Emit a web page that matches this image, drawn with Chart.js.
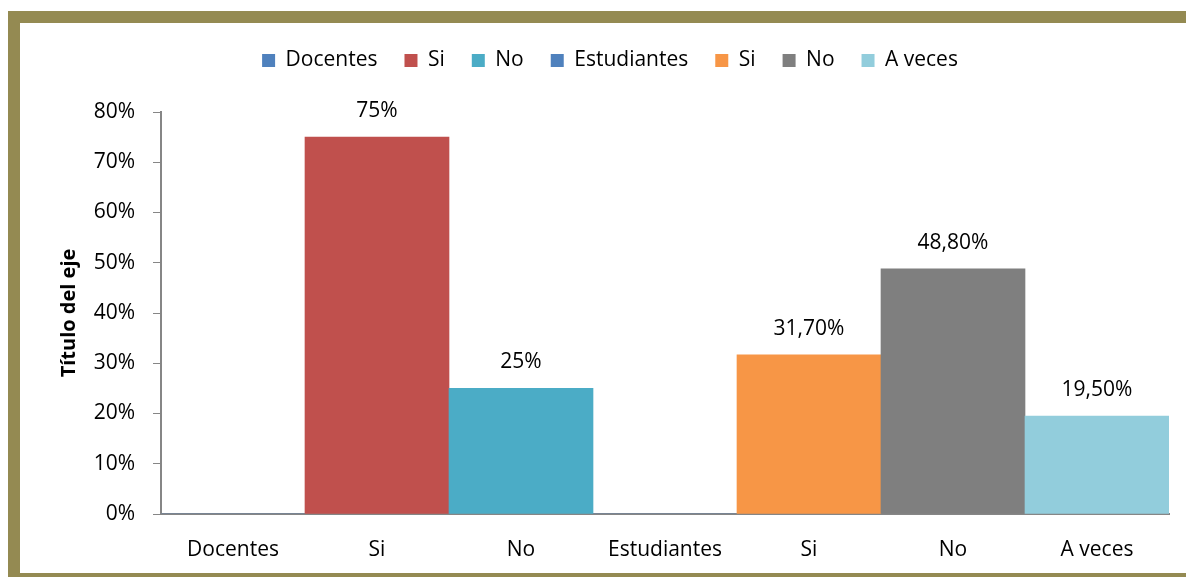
<!DOCTYPE html>
<html>
<head>
<meta charset="utf-8">
<script src="https://cdn.jsdelivr.net/npm/chart.js@4"></script>
<style>
  body { margin: 0; background: #fff; overflow: hidden; }
  #frame {
    position: absolute; left: 8px; top: 11px;
    width: 1200px; height: 574px;
    border: 12px solid #948a52; box-sizing: border-box;
  }
  #chart { position: absolute; left: 0; top: 0; }
</style>
</head>
<body>
<div id="frame"></div>
<canvas id="chart" width="1186" height="577"></canvas>
<script>
// ------------------------- DATA -------------------------
const categories = ["Docentes", "Si", "No", "Estudiantes", "Si", "No", "A veces"];
const values = [0, 75, 25, 0, 31.7, 48.8, 19.5];
const valueLabels = ["", "75%", "25%", "", "31,70%", "48,80%", "19,50%"];
const barColors = ["#4f81bd", "#c0504d", "#4bacc6", "#4f81bd", "#f79646", "#7f7f7f", "#92cddc"];
const yTicks = [0, 10, 20, 30, 40, 50, 60, 70, 80];

const FONT = "'Open Sans', Lato, sans-serif";
const FS = 21;

// labels above the bars
const barLabels = {
    id: "barLabels",
    afterDatasetsDraw(chart) {
        const ctx = chart.ctx;
        const meta = chart.getDatasetMeta(0);
        ctx.save();
        ctx.font = FS + "px " + FONT;
        ctx.fillStyle = "#000";
        ctx.textAlign = "center";
        ctx.textBaseline = "middle";
        meta.data.forEach((bar, i) => {
            if (!valueLabels[i]) return;
            ctx.fillText(valueLabels[i], bar.x, bar.y - 26);
        });
        ctx.restore();
    }
};

// extra room between legend and plot
const legendGap = {
    id: "legendGap",
    beforeInit(chart) {
        const fit = chart.legend.fit;
        chart.legend.fit = function () {
            fit.call(this);
            this.height += 31;
        };
    }
};

new Chart(document.getElementById("chart"), {
    type: "bar",
    data: {
        labels: categories,
        datasets: [{
            data: values,
            backgroundColor: barColors,
            categoryPercentage: 1,
            barPercentage: 1
        }]
    },
    options: {
        responsive: false,
        animation: false,
        layout: { padding: { top: 23, left: 51, right: 17, bottom: 0 } },
        plugins: {
            tooltip: { enabled: false },
            legend: {
                position: "top",
                labels: {
                    boxWidth: 13,
                    boxHeight: 13,
                    padding: 27,
                    color: "#000",
                    font: { family: FONT, size: FS },
                    generateLabels: () => categories.map((c, i) => ({
                        text: c,
                        fillStyle: barColors[i],
                        strokeStyle: barColors[i],
                        lineWidth: 0,
                        index: i
                    }))
                }
            }
        },
        scales: {
            x: {
                grid: { display: false },
                border: { display: true, color: "#868686", width: 2 },
                ticks: { color: "#000", padding: 15, font: { family: FONT, size: FS } },
                afterFit: s => { s.height = 63; }
            },
            y: {
                min: 0,
                max: 80,
                afterBuildTicks: s => { s.ticks = yTicks.map(v => ({ value: v })); },
                grid: { drawOnChartArea: false, drawTicks: true, tickLength: 8, color: "#868686", width: 2 },
                border: { display: true, color: "#868686", width: 2 },
                ticks: { color: "#000", padding: 18, callback: v => v + "%", font: { family: FONT, size: FS } },
                title: {
                    display: true,
                    text: "Título del eje",
                    color: "#000",
                    padding: { top: 6, bottom: 4 },
                    font: { family: FONT, size: 20, weight: "bold" }
                },
                afterFit: s => { s.width = 110; }
            }
        }
    },
    plugins: [barLabels, legendGap]
});
</script>
</body>
</html>
